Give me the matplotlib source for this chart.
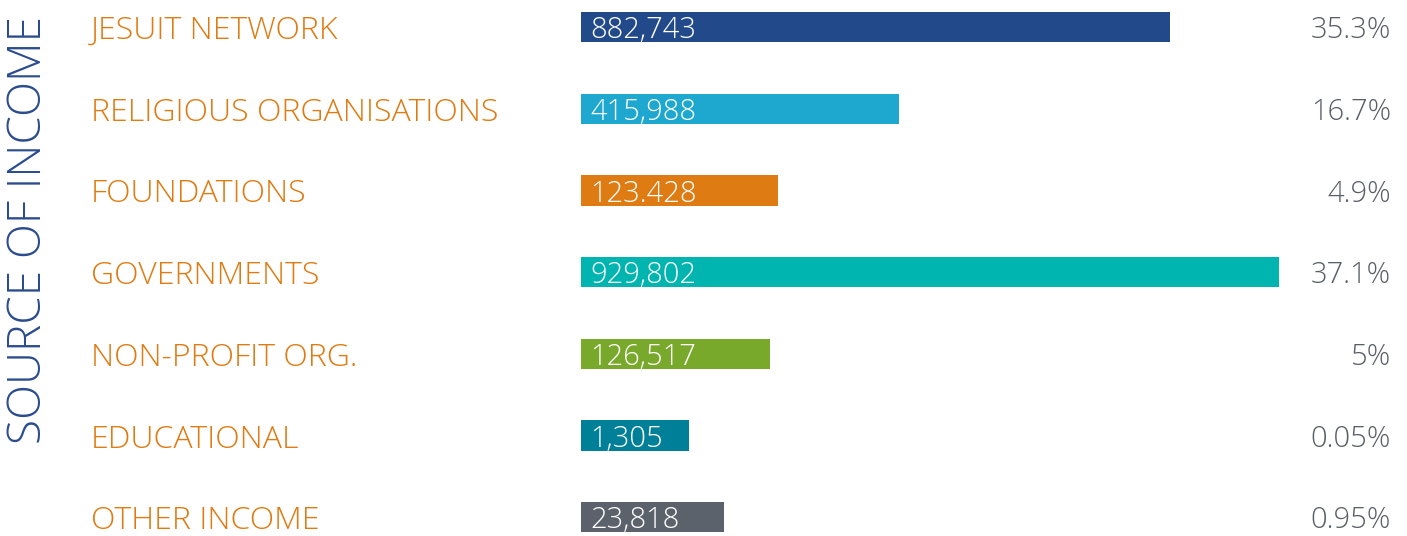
import matplotlib.pyplot as plt
import matplotlib.transforms as mtransforms

# data
categories = ['JESUIT NETWORK', 'RELIGIOUS ORGANISATIONS', 'FOUNDATIONS',
              'GOVERNMENTS', 'NON-PROFIT ORG.', 'EDUCATIONAL', 'OTHER INCOME']
value_labels = ['882,743', '415,988', '123.428', '929,802', '126,517', '1,305', '23,818']
percent_labels = ['35.3%', '16.7%', '4.9%', '37.1%', '5%', '0.05%', '0.95%']
# drawn bar lengths (not proportional to the amounts in the original)
bar_len = [589, 318, 197, 698, 189, 108, 143]
colors = ['#224a8a', '#1ea8cf', '#de7b12', '#00b5b0', '#79a92a', '#007f99', '#5c626b']

plt.rcParams['font.family'] = ['Open Sans', 'DejaVu Sans']

W, H = 1407, 536
fig = plt.figure(figsize=(W / 100, H / 100), dpi=100)
fig.patch.set_facecolor('white')

# axes: x from the bar origin to the right edge of the percent column
row_gap = 81.7
top_center = 27
x0, x1 = 581, 1391
y_top = top_center - row_gap / 2
y_bot = top_center + row_gap * (len(categories) - 0.5)
ax = fig.add_axes([x0 / W, 1 - y_bot / H, (x1 - x0) / W, (y_bot - y_top) / H])
ax.set_xlim(0, x1 - x0)
ax.set_ylim(len(categories) - 0.5, -0.5)
ax.axis('off')

ys = list(range(len(categories)))
ax.barh(ys, bar_len, height=0.37, color=colors, left=0)

lab_tr = mtransforms.blended_transform_factory(fig.transFigure, ax.transData)
pct_tr = mtransforms.blended_transform_factory(ax.transAxes, ax.transData)
for y, cat, val, pct in zip(ys, categories, value_labels, percent_labels):
    ax.text(91 / W, y, cat, transform=lab_tr, ha='left', va='center_baseline',
            fontsize=23, color='#de7b12', fontweight='light')
    ax.text(9, y, val, ha='left', va='center_baseline', fontsize=21,
            color='white', fontweight='light')
    ax.text(1.0, y, pct, transform=pct_tr, ha='right', va='center_baseline',
            fontsize=21, color='#5a5f66', fontweight='light')

fig.text(29 / W, 1 - 230 / H, 'SOURCE OF INCOME', rotation=90, ha='center', va='center',
         fontsize=33, color='#2a4b8d', fontweight='light')

fig.savefig('out.png', dpi=100, facecolor='white')
